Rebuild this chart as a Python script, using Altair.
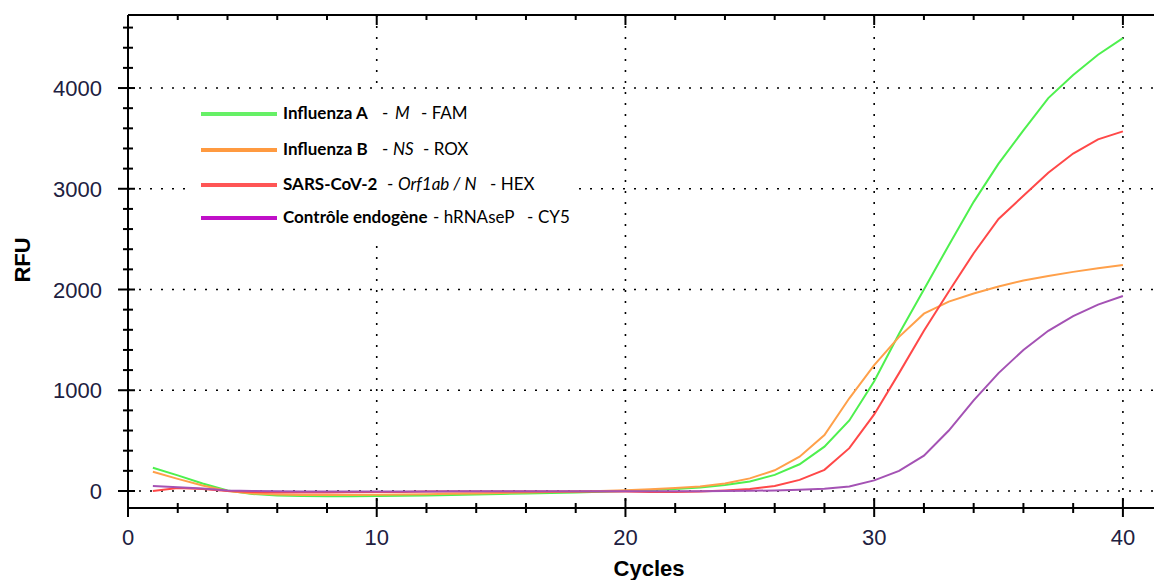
import altair as alt
import pandas as pd

# ---------------- data ----------------
cycles = list(range(1, 41))

flu_a = [230, 155, 75, 5, -30, -45, -50, -52, -52, -50,
         -48, -45, -40, -35, -30, -25, -20, -15, -8, 0,
         10, 20, 35, 60, 95, 160, 265, 440, 700, 1090,
         1560, 2000, 2440, 2870, 3250, 3580, 3900, 4130, 4330, 4495]

flu_b = [190, 120, 55, 0, -25, -35, -40, -40, -40, -38,
         -35, -32, -28, -25, -20, -15, -10, -5, 0, 8,
         18, 30, 45, 75, 125, 205, 340, 555, 920, 1250,
         1530, 1760, 1880, 1960, 2030, 2090, 2135, 2175, 2210, 2243]

sars = [0, 30, 20, 0, -10, -15, -15, -15, -12, -10,
        -10, -5, -5, -5, -5, -5, -5, -5, -5, -5,
        -10, -10, -5, 5, 20, 50, 110, 210, 425, 760,
        1170, 1590, 1980, 2360, 2700, 2930, 3160, 3350, 3490, 3570]

endo = [50, 38, 25, 5, 0, -3, -5, -5, -5, -5,
        -5, -5, -3, -3, -3, -3, -3, -3, -3, -3,
        -3, -3, -2, 0, 2, 5, 12, 22, 45, 105,
        200, 350, 600, 900, 1170, 1400, 1590, 1735, 1850, 1935]

series_names = ["Influenza A", "Influenza B", "SARS-CoV-2", "Contrôle endogène"]
series_values = [flu_a, flu_b, sars, endo]
line_colors = ["#4ef04e", "#ffa04a", "#ff4848", "#a452b4"]
swatch_colors = ["#66f066", "#ff9a40", "#ff5555", "#c010c8"]

x_major = [0, 10, 20, 30, 40]
x_labels = ["0", "10", "20", "30", "40"]
x_minor = [2, 4, 6, 8, 12, 14, 16, 18, 22, 24, 26, 28, 32, 34, 36, 38]
y_major = [0, 1000, 2000, 3000, 4000]
y_labels = ["0", "1000", "2000", "3000", "4000"]
y_minor = [200, 400, 600, 800, 1200, 1400, 1600, 1800, 2200, 2400, 2600, 2800,
           3200, 3400, 3600, 3800, 4200, 4400, 4600]
x_title = "Cycles"
y_title = "RFU"

# legend text segments: (text, weight, style)
legend_segments = [
    [("Influenza A", "bold", "normal"), ("-", "normal", "normal"), ("M", "normal", "italic"), ("- FAM", "normal", "normal")],
    [("Influenza B", "bold", "normal"), ("-", "normal", "normal"), ("NS", "normal", "italic"), ("- ROX", "normal", "normal")],
    [("SARS-CoV-2", "bold", "normal"), ("-", "normal", "normal"), ("Orf1ab / N", "normal", "italic"), ("- HEX", "normal", "normal")],
    [("Contrôle endogène", "bold", "normal"), ("- hRNAseP", "normal", "normal"), ("-", "normal", "normal"), ("CY5", "normal", "normal")],
]

# ---------------- layout ----------------
W, H = 1026, 493
legend_x = [[155, 254, 267, 293], [155, 254, 265, 295], [155, 259, 270, 362], [155, 305, 399, 410]]
legend_y = [99, 135, 170, 203]
LABEL_FONT = "Liberation Sans"
LABEL_COLOR = "#202040"

rows = []
for name, vals in zip(series_names, series_values):
    for c, v in zip(cycles, vals):
        rows.append({"cycle": c, "rfu": v, "series": name})
df = pd.DataFrame(rows)

xscale = alt.Scale(domain=[0, 41.25], nice=False, zero=False)
yscale = alt.Scale(domain=[-169, 4725], nice=False, zero=False)


def X(field):
    return alt.X(field, scale=xscale, axis=None)


def Y(field):
    return alt.Y(field, scale=yscale, axis=None)


one = pd.DataFrame({"k": [0]})
ymaj = pd.DataFrame({"v": y_major, "lab": y_labels})
ymin = pd.DataFrame({"v": y_minor})
xmaj = pd.DataFrame({"v": x_major, "lab": x_labels})
xgrid = pd.DataFrame({"v": [v for v in x_major if v > 0]})
xmin = pd.DataFrame({"v": x_minor})

layers = []

# dotted grid
layers.append(alt.Chart(ymaj).mark_rule(color="black", strokeWidth=1.6, strokeDash=[2, 9]).encode(
    y=Y("v:Q"), x=alt.value(0), x2=alt.value(W)))
layers.append(alt.Chart(xgrid).mark_rule(color="black", strokeWidth=1.6, strokeDash=[2, 9]).encode(
    x=X("v:Q"), y=alt.value(0), y2=alt.value(H)))

# white box behind legend
layers.append(alt.Chart(one).mark_rect(fill="white").encode(
    x=alt.value(57), x2=alt.value(450), y=alt.value(77), y2=alt.value(230)))

# data lines
layers.append(
    alt.Chart(df).mark_line(strokeWidth=2).encode(
        x=X("cycle:Q"),
        y=Y("rfu:Q"),
        color=alt.Color("series:N", scale=alt.Scale(domain=series_names, range=line_colors), legend=None),
        detail="series:N",
    )
)

# axis lines, ticks and top border
layers.append(alt.Chart(one).mark_rule(color="black", strokeWidth=2).encode(
    x=alt.value(0), y=alt.value(0), y2=alt.value(H)))
layers.append(alt.Chart(one).mark_rule(color="black", strokeWidth=2).encode(
    x=alt.value(0), x2=alt.value(W), y=alt.value(H)))
layers.append(alt.Chart(one).mark_rule(color="black", strokeWidth=2).encode(
    x=alt.value(0), x2=alt.value(W), y=alt.value(0)))
layers.append(alt.Chart(ymaj).mark_rule(color="black", strokeWidth=2).encode(
    y=Y("v:Q"), x=alt.value(-10), x2=alt.value(7)))
layers.append(alt.Chart(ymin).mark_rule(color="black", strokeWidth=2).encode(
    y=Y("v:Q"), x=alt.value(-5), x2=alt.value(5)))
layers.append(alt.Chart(xmaj).mark_rule(color="black", strokeWidth=2).encode(
    x=X("v:Q"), y=alt.value(H + 9), y2=alt.value(H - 10)))
layers.append(alt.Chart(xmin).mark_rule(color="black", strokeWidth=2).encode(
    x=X("v:Q"), y=alt.value(H + 5), y2=alt.value(H - 5)))
layers.append(alt.Chart(xmaj).mark_rule(color="black", strokeWidth=2).encode(
    x=X("v:Q"), y=alt.value(0), y2=alt.value(10)))
layers.append(alt.Chart(xmin).mark_rule(color="black", strokeWidth=2).encode(
    x=X("v:Q"), y=alt.value(0), y2=alt.value(5)))

# tick labels
layers.append(alt.Chart(ymaj).mark_text(
    align="right", baseline="alphabetic", dy=8, font=LABEL_FONT, fontSize=22, color=LABEL_COLOR).encode(
    y=Y("v:Q"), x=alt.value(-26), text="lab:N"))
layers.append(alt.Chart(xmaj).mark_text(
    align="center", baseline="alphabetic", font=LABEL_FONT, fontSize=22, color=LABEL_COLOR).encode(
    x=X("v:Q"), y=alt.value(H + 37), text="lab:N"))

# axis titles
layers.append(alt.Chart(pd.DataFrame({"t": [y_title]})).mark_text(
    align="center", baseline="middle", angle=270, font=LABEL_FONT, fontSize=22,
    fontWeight="bold", color="black").encode(
    x=alt.value(-105), y=alt.value(245), text="t:N"))
layers.append(alt.Chart(pd.DataFrame({"t": [x_title]})).mark_text(
    align="center", baseline="alphabetic", font=LABEL_FONT, fontSize=22,
    fontWeight="bold", color="black").encode(
    x=alt.value(521), y=alt.value(H + 68), text="t:N"))

# legend
for i, segs in enumerate(legend_segments):
    yy = legend_y[i]
    layers.append(
        alt.Chart(pd.DataFrame({"k": [series_names[i]]})).mark_rule(
            color=swatch_colors[i], strokeWidth=4).encode(
            x=alt.value(73), x2=alt.value(149), y=alt.value(yy))
    )
    for (txt, wt, st), xx in zip(segs, legend_x[i]):
        layers.append(
            alt.Chart(pd.DataFrame({"t": [txt]})).mark_text(
                align="left", baseline="middle", font="Lato", fontSize=17,
                fontWeight=wt, fontStyle=st, color="black").encode(
                x=alt.value(xx), y=alt.value(yy), text="t:N")
        )

chart = alt.layer(*layers).properties(
    width=W, height=H,
    autosize=alt.AutoSizeParams(type="none"),
    padding={"left": 120, "top": 7, "right": 0, "bottom": 72},
).configure_view(stroke=None)

chart.save("out.html", embed_options={"renderer": "svg", "actions": False})
